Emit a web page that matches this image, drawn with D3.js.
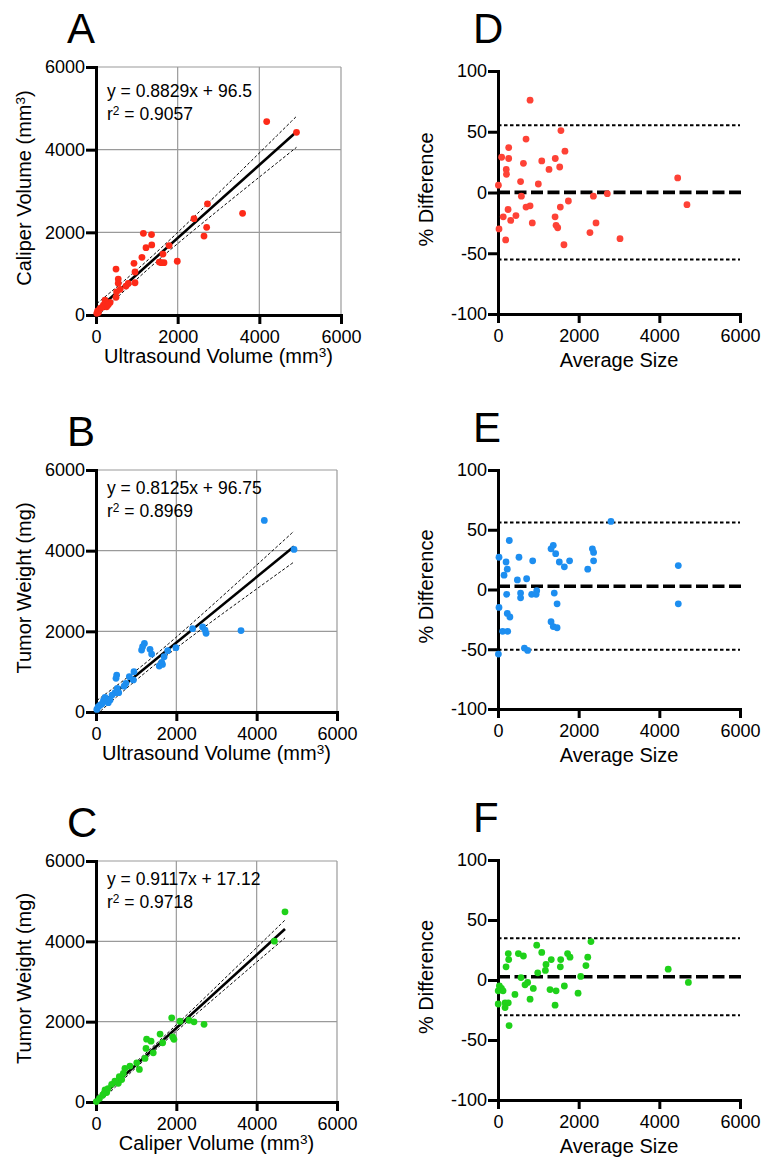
<!DOCTYPE html>
<html>
<head>
<meta charset="utf-8">
<script src="https://cdn.jsdelivr.net/npm/d3@7"></script>
<style>
body { margin: 0; background: #fff; }
svg text { font-family: "Liberation Sans", Arial, Helvetica, sans-serif; fill: #000; }
</style>
</head>
<body>
<div id="chart"></div>
<script>
// tick values
var volumeTicks = [0, 2000, 4000, 6000];
var diffTicks = [-100, -50, 0, 50, 100];

// A: ultrasound volume vs caliper volume
var usA  = [4180, 4910, 3590, 2730, 2400, 2710, 2645, 1990, 1790, 1640, 1550, 1665, 1600, 1360, 1160, 1225, 1365, 1125, 930, 955, 955, 790, 735, 490, 545, 545, 590, 490, 505, 345, 220, 180, 260, 100, 20, 40, 140, 240, 300, 60];
var calA = [4680, 4420, 2460, 2690, 2330, 2120, 1910, 1300, 1680, 1475, 1280, 1265, 1265, 1945, 1975, 1630, 1695, 1395, 1250, 1040, 780, 765, 700, 1110, 870, 770, 620, 430, 560, 305, 360, 240, 200, 160, 40, 100, 180, 290, 250, 60];

// B: ultrasound volume vs tumor weight
var usB = [4190, 4930, 3610, 2405, 2655, 2715, 2740, 1990, 1785, 1695, 1635, 1575, 1655, 1205, 1135, 1160, 1345, 1385, 945, 930, 830, 745, 515, 498, 530, 565, 475, 265, 185, 305, 100, 20, 55, 225, 350, 400, 700, 150];
var wtB = [4750, 4030, 2020, 2065, 2110, 2030, 1950, 1595, 1520, 1370, 1230, 1140, 1180, 1700, 1535, 1620, 1555, 1435, 1000, 795, 875, 710, 915, 835, 585, 480, 480, 315, 280, 230, 170, 65, 130, 365, 300, 420, 640, 200];

// C: caliper volume vs tumor weight
var calC = [4705, 4440, 1885, 2090, 2315, 2440, 2690, 1940, 1910, 1595, 1660, 1260, 1370, 1245, 1425, 1220, 1015, 1080, 845, 720, 680, 580, 555, 390, 640, 225, 265, 165, 85, 10, 200, 300, 470];
var wtC  = [4735, 4005, 2095, 2010, 2035, 1995, 1935, 1560, 1620, 1690, 1475, 1565, 1515, 1335, 1225, 1085, 975, 810, 895, 835, 710, 630, 465, 440, 560, 300, 235, 170, 90, 10, 215, 330, 520];

// D-F: average size vs % difference
var avgD = [795, 1560, 695, 265, 1660, 90, 265, 1085, 1420, 630, 205, 210, 1265, 1530, 560, 1000, 10, 4455, 4685, 2365, 2710, 580, 1745, 795, 695, 1545, 250, 1415, 130, 445, 315, 850, 1440, 1480, 2430, 2280, 25, 190, 1635, 3025];
var pctD = [76, 51, 44, 37, 34, 29, 28, 26, 28, 24, 19, 15, 19, 21, 9, 7, 6, 12, -10, -3, -1, -3, -7, -11, -12, -12, -14, -20, -20, -19, -23, -25, -27, -29, -25, -33, -30, -39, -43, -38];

var avgE = [2800, 280, 1370, 1315, 1430, 2340, 2370, 2370, 2225, 1775, 1520, 1645, 860, 520, 25, 200, 230, 150, 480, 710, 4470, 4470, 215, 560, 560, 835, 960, 945, 1395, 1465, 25, 230, 295, 1315, 1370, 1465, 115, 240, 655, 735, 10];
var pctE = [57, 41, 37, 34, 30, 34, 31, 24, 17, 24, 23, 19, 24, 27, 27, 23, 17, 12, 8, 9, 20, -12, -4, -3, -7, -4, -1, -4, -3, -12, -15, -20, -23, -27, -31, -32, -35, -35, -49, -51, -54];

var avgF = [2305, 960, 1085, 505, 630, 255, 265, 200, 1725, 1785, 2225, 2180, 1555, 1320, 1190, 1545, 1175, 985, 2050, 4220, 4720, 570, 735, 670, 875, 35, 85, 5, 125, 420, 1290, 1440, 1645, 1985, 795, 1415, 5, 175, 255, 175, 275];
var pctF = [32, 29, 23, 22, 20, 22, 17, 11, 22, 19, 19, 12, 17, 17, 13, 11, 8, 6, 3, 9, -2, 2, -2, -4, -7, -5, -7, -9, -9, -12, -8, -9, -5, -11, -16, -21, -20, -19, -19, -23, -38];

// regression fits shown on A, B, C
var fitSlope = [0.8829, 0.8125, 0.9117];
var fitIntercept = [96.5, 96.75, 17.12];
var fitR2 = [0.9057, 0.8969, 0.9718];

// bias and limits of agreement on D, E, F
var biasMean = [0.1, 2.75, 2.65];
var limitUpper = [55.4, 56, 34.7];
var limitLower = [-55.2, -50.5, -29.4];

var svg = d3.select("#chart").append("svg")
    .attr("width", 763)
    .attr("height", 1167);

svg.append("rect").attr("width", 763).attr("height", 1167).attr("fill", "#fff");

function styleAxis(g) {
    g.select(".domain").attr("stroke", "#000").attr("stroke-width", 3).attr("stroke-linecap", "square");
    g.selectAll(".tick line").attr("stroke", "#000").attr("stroke-width", 3);
    g.selectAll(".tick text").attr("font-size", "18px").attr("fill", "#000");
}

function drawAxes(g, x, y, box, xTicks, yTicks, yFormat) {
    var xAxis = d3.axisBottom(x).tickValues(xTicks).tickSize(9).tickSizeOuter(0).tickPadding(6).tickFormat(d => d);
    var yAxis = d3.axisLeft(y).tickValues(yTicks).tickSize(10).tickSizeOuter(0).tickPadding(1).tickFormat(yFormat);
    g.append("g").attr("transform", "translate(0," + box.bottom + ")").call(xAxis).call(styleAxis);
    g.append("g").attr("transform", "translate(" + box.left + ",0)").call(yAxis).call(styleAxis);
}

function addTitles(g, box, letter, xTitle, yTitle, xOff) {
    g.append("text")
        .attr("x", box.left - box.letterDx)
        .attr("y", box.top - box.letterDy)
        .attr("font-size", "42px")
        .text(letter);

    var xt = g.append("text")
        .attr("x", (box.left + box.right) / 2)
        .attr("y", box.bottom + xOff)
        .attr("text-anchor", "middle")
        .attr("font-size", "20px");
    addSuper(xt, xTitle);

    var yt = g.append("text")
        .attr("transform", "translate(" + (box.left - 65) + "," + ((box.top + box.bottom) / 2 - 3) + ") rotate(-90)")
        .attr("text-anchor", "middle")
        .attr("font-size", "20px");
    addSuper(yt, yTitle);
}

// parts: [text, superscript, text]
function addSuper(t, parts) {
    t.append("tspan").text(parts[0]);
    if (parts.length > 1) {
        t.append("tspan").attr("dy", "-0.45em").attr("font-size", "0.68em").text(parts[1]);
        t.append("tspan").attr("dy", "0.31em").text(parts[2]);
    }
}

function drawScatter(box, xs, ys, idx, color, letter, xTitle, yTitle) {
    var g = svg.append("g");
    var x = d3.scaleLinear().domain([0, 6000]).range([box.left, box.right]);
    var y = d3.scaleLinear().domain([0, 6000]).range([box.bottom, box.top]);

    // grid
    g.append("g").selectAll("line.gx")
        .data(volumeTicks.slice(1))
        .enter().append("line")
        .attr("x1", d => x(d)).attr("x2", d => x(d))
        .attr("y1", box.bottom).attr("y2", box.top)
        .attr("stroke", "#9a9a9a").attr("stroke-width", 1.2);
    g.append("g").selectAll("line.gy")
        .data(volumeTicks.slice(1))
        .enter().append("line")
        .attr("x1", box.left).attr("x2", box.right)
        .attr("y1", d => y(d)).attr("y2", d => y(d))
        .attr("stroke", "#9a9a9a").attr("stroke-width", 1.2);

    drawAxes(g, x, y, box, volumeTicks, volumeTicks, d => d);

    // regression and 95% confidence band from the points
    var b = fitSlope[idx], a = fitIntercept[idx];
    var n = xs.length;
    var xbar = d3.mean(xs);
    var sxx = d3.sum(xs, v => (v - xbar) * (v - xbar));
    var sse = d3.sum(xs, (v, i) => Math.pow(ys[i] - (b * v + a), 2));
    var s = Math.sqrt(sse / (n - 2));
    var t = 2.02;
    var xmin = d3.min(xs), xmax = d3.max(xs);
    var xsLine = d3.range(xmin, xmax, (xmax - xmin) / 80).concat([xmax]);
    var half = v => t * s * Math.sqrt(1 / n + (v - xbar) * (v - xbar) / sxx);

    var line = d3.line().x(d => x(d[0])).y(d => y(d[1]));
    g.append("path")
        .datum(xsLine.map(v => [v, b * v + a + half(v)]))
        .attr("d", line).attr("fill", "none")
        .attr("stroke", "#000").attr("stroke-width", 1).attr("stroke-dasharray", "3,2");
    g.append("path")
        .datum(xsLine.map(v => [v, b * v + a - half(v)]))
        .attr("d", line).attr("fill", "none")
        .attr("stroke", "#000").attr("stroke-width", 1).attr("stroke-dasharray", "3,2");
    g.append("path")
        .datum([[xmin, b * xmin + a], [xmax, b * xmax + a]])
        .attr("d", line).attr("fill", "none")
        .attr("stroke", "#000").attr("stroke-width", 2.6);

    g.append("g").selectAll("circle")
        .data(xs)
        .enter().append("circle")
        .attr("cx", d => x(d))
        .attr("cy", (d, i) => y(ys[i]))
        .attr("r", 3.4)
        .attr("fill", color);

    // equation
    var eq = g.append("text")
        .attr("x", box.left + 11)
        .attr("y", box.top + box.eqDy)
        .attr("font-size", "17.5px");
    eq.append("tspan").text("y = " + fitSlope[idx] + "x + " + fitIntercept[idx]);
    var r2 = g.append("text")
        .attr("x", box.left + 11)
        .attr("y", box.top + box.eqDy + 23)
        .attr("font-size", "17.5px");
    addSuper(r2, ["r", "2", " = " + fitR2[idx]]);

    addTitles(g, box, letter, xTitle, yTitle, 48);
}

function drawDiff(box, xs, ys, idx, color, letter) {
    var g = svg.append("g");
    var x = d3.scaleLinear().domain([0, 6000]).range([box.left, box.right]);
    var y = d3.scaleLinear().domain([-100, 100]).range([box.bottom, box.top]);

    drawAxes(g, x, y, box, volumeTicks, diffTicks, d => String(d));

    [limitUpper[idx], limitLower[idx]].forEach(v => {
        g.append("line")
            .attr("x1", x(0)).attr("x2", x(6000))
            .attr("y1", y(v)).attr("y2", y(v))
            .attr("stroke", "#000").attr("stroke-width", 2).attr("stroke-dasharray", "3.5,2.5");
    });
    g.append("line")
        .attr("x1", x(0)).attr("x2", x(6000) + 4)
        .attr("y1", y(biasMean[idx])).attr("y2", y(biasMean[idx]))
        .attr("stroke", "#000").attr("stroke-width", 3.6).attr("stroke-dasharray", "12,4.5");

    g.append("g").selectAll("circle")
        .data(xs)
        .enter().append("circle")
        .attr("cx", d => x(d))
        .attr("cy", (d, i) => y(ys[i]))
        .attr("r", 3.4)
        .attr("fill", color);

    addTitles(g, box, letter, ["Average Size"], ["% Difference"], 53);
}

var red = "#fd2a18", blue = "#1d8ef0", green = "#1fd11a";

drawScatter({left: 96, right: 341, top: 67, bottom: 315, eqDy: 30, letterDx: 29, letterDy: 24}, usA, calA, 0, red, "A",
    ["Ultrasound Volume (mm", "3", ")"], ["Caliper Volume (mm", "3", ")"]);
drawScatter({left: 96, right: 337, top: 470, bottom: 712, eqDy: 24, letterDx: 29, letterDy: 24}, usB, wtB, 1, blue, "B",
    ["Ultrasound Volume (mm", "3", ")"], ["Tumor Weight (mg)"]);
drawScatter({left: 96, right: 337, top: 861, bottom: 1102, eqDy: 24, letterDx: 29, letterDy: 24}, calC, wtC, 2, green, "C",
    ["Caliper Volume (mm", "3", ")"], ["Tumor Weight (mg)"]);

drawDiff({left: 498, right: 740, top: 71, bottom: 314, letterDx: 25, letterDy: 28}, avgD, pctD, 0, "#fe4236", "D");
drawDiff({left: 498, right: 740, top: 470, bottom: 709, letterDx: 25, letterDy: 28}, avgE, pctE, 1, blue, "E");
drawDiff({left: 498, right: 740, top: 860, bottom: 1100, letterDx: 25, letterDy: 28}, avgF, pctF, 2, green, "F");
</script>
</body>
</html>
